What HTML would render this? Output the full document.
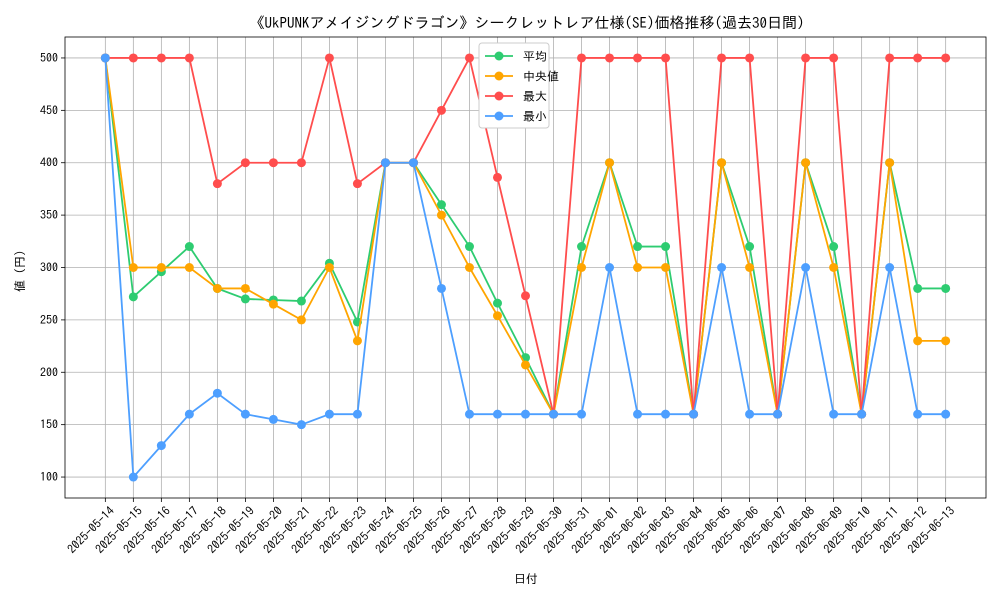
<!DOCTYPE html>
<html><head><meta charset="utf-8"><style>
body{margin:0;background:#fff;}
svg text{font-family:"IPAGothic","Noto Sans CJK JP",sans-serif;fill:#000;}
</style></head><body>
<svg id="c" width="1000" height="600" xmlns="http://www.w3.org/2000/svg">
<rect x="0" y="0" width="1000" height="600" fill="#fff"/>
<text x="527" y="28" text-anchor="middle" font-size="15">《UkPUNKアメイジングドラゴン》シークレットレア仕様(SE)価格推移(過去30日間)</text>
<g id="grid"></g><g id="axes"></g><g id="series"></g>
<text x="526" y="583" text-anchor="middle" font-size="12">日付</text>
<text transform="translate(24,268) rotate(-90)" text-anchor="middle" font-size="12">値（円）</text>
<g id="legend"></g>
</svg>
<script>
const dates=["2025-05-14","2025-05-15","2025-05-16","2025-05-17","2025-05-18","2025-05-19","2025-05-20","2025-05-21","2025-05-22","2025-05-23","2025-05-24","2025-05-25","2025-05-26","2025-05-27","2025-05-28","2025-05-29","2025-05-30","2025-05-31","2025-06-01","2025-06-02","2025-06-03","2025-06-04","2025-06-05","2025-06-06","2025-06-07","2025-06-08","2025-06-09","2025-06-10","2025-06-11","2025-06-12","2025-06-13"];
const avgVals=[500,272,296,320,280,270,269,268,304,248,400,400,360,320,266,214,160,320,400,320,320,160,400,320,160,400,320,160,400,280,280];
const medVals=[500,300,300,300,280,280,265,250,300,230,400,400,350,300,254,207,160,300,400,300,300,160,400,300,160,400,300,160,400,230,230];
const maxVals=[500,500,500,500,380,400,400,400,500,380,400,400,450,500,386,273,160,500,500,500,500,160,500,500,160,500,500,160,500,500,500];
const minVals=[500,100,130,160,180,160,155,150,160,160,400,400,280,160,160,160,160,160,300,160,160,160,300,160,160,300,160,160,300,160,160];
const yTicks=[100,150,200,250,300,350,400,450,500];
const seriesNames=["平均","中央値","最大","最小"];
const L=65,R=986,T=37,B=498;
const n=dates.length;
function xs(i){const m=(n-1)*0.048;return L+(i+m)/(n-1+2*m)*(R-L);}
function ys(v){return B-(v-80)/(520-80)*(B-T);}
const NS="http://www.w3.org/2000/svg";
function mk(tag,attrs,parent){const e=document.createElementNS(NS,tag);for(const k in attrs)e.setAttribute(k,attrs[k]);parent.appendChild(e);return e;}
const grid=document.getElementById('grid'),axes=document.getElementById('axes'),ser=document.getElementById('series'),leg=document.getElementById('legend');
dates.forEach((d,i)=>{const x=xs(i);
const g=mk('line',{x1:x,x2:x,y1:T,y2:B,stroke:'#b0b0b0','stroke-width':0.8},grid);


mk('line',{x1:x,x2:x,y1:B,y2:B+4,stroke:'#000','stroke-width':0.8},axes);
const t=mk('text',{transform:`translate(${x+4},${B+8}) rotate(-45)`,'text-anchor':'end','font-size':12,'dominant-baseline':'hanging'},axes);
t.textContent=d;

});
yTicks.forEach(v=>{const y=ys(v);
const g=mk('line',{x1:L,x2:R,y1:y,y2:y,stroke:'#b0b0b0','stroke-width':0.8},grid);


mk('line',{x1:L-4,x2:L,y1:y,y2:y,stroke:'#000','stroke-width':0.8},axes);
const t=mk('text',{x:L-7,y:y+4,'text-anchor':'end','font-size':12},axes);
t.textContent=v;

});
const fr=mk('rect',{x:L,y:T,width:R-L,height:B-T,fill:'none',stroke:'#000','stroke-width':0.8},axes);


const data=[avgVals,medVals,maxVals,minVals];
const colors=["#2ecc71","#ffa500","#ff4d4d","#4d9fff"];
const snames=["avg-series","median-series","max-series","min-series"];
data.forEach((vals,s)=>{const g=mk('g',{},ser);


const p=mk('polyline',{points:vals.map((v,i)=>xs(i)+','+ys(v)).join(' '),fill:'none',stroke:colors[s],'stroke-width':1.8},g);


vals.forEach((v,i)=>{const c=mk('circle',{cx:xs(i),cy:ys(v),r:4.5,fill:colors[s]},g);

});});
const lb=mk('rect',{x:479,y:43,width:70,height:85,fill:'#fff',stroke:'#ccc',rx:3},leg);


seriesNames.forEach((nm,s)=>{const y=56+s*20;const g=mk('g',{},leg);


mk('line',{x1:485,x2:513,y1:y,y2:y,stroke:colors[s],'stroke-width':1.8},g);
mk('circle',{cx:499,cy:y,r:4.5,fill:colors[s]},g);
const t=mk('text',{x:523,y:y+4.5,'font-size':12},g);t.textContent=nm;});
</script>
</body></html>
